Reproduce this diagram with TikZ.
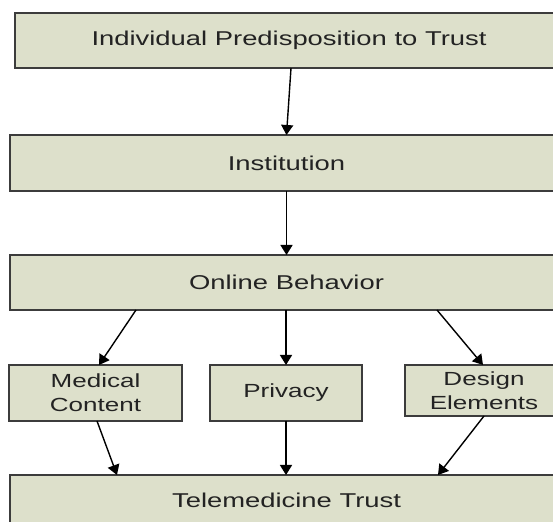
\documentclass[tikz,border=0pt]{standalone}
\usepackage{fontspec}
\setmainfont[FakeStretch=1.37]{Liberation Sans}
\usepackage{xcolor}
\usetikzlibrary{arrows.meta}

\begin{document}
\begin{tikzpicture}[x=1pt,y=1pt,
  box/.style={draw=drawColor,fill=fillColor,line width=1.6pt,text=textColor,
    inner sep=0pt,outer sep=0pt,align=center,font=\fontsize{20}{24}\selectfont},
  smallbox/.style={box,font=\fontsize{19}{24.3}\selectfont},
  link/.style={draw=black,line width=1.4pt,-{Triangle[length=10pt,width=12pt]}}]
\definecolor{fillColor}{RGB}{221,224,203}
\definecolor{drawColor}{RGB}{60,60,60}
\definecolor{textColor}{RGB}{35,35,35}
\path[use as bounding box,fill=white] (0,0) rectangle (553,521);

\node[box,minimum width=548,minimum height=55] (pred) at (289,480.5) {Individual Predisposition to Trust};
\node[box,minimum width=553,minimum height=56] (inst) at (286.5,358) {Institution};
\node[box,minimum width=553,minimum height=55] (onl) at (286.5,238.5) {Online Behavior};
\node[smallbox,minimum width=173,minimum height=56] (med) at (95.5,128) {Medical\\Content};
\node[smallbox,minimum width=152,minimum height=56] (priv) at (286,128) {Privacy};
\node[smallbox,minimum width=158,minimum height=51] (des) at (484,130.5) {Design\\Elements};
\node[box,minimum width=553,minimum height=50] (tele) at (286.5,21) {Telemedicine Trust};

\draw[link] ([xshift=2pt]pred.south) -- (inst.north);
\draw[link] (inst.south) -- (onl.north);
\draw[link] ([xshift=-150.5pt]onl.south) -- ([xshift=3.5pt]med.north);
\draw[link] ([xshift=-0.5pt]onl.south) -- (priv.north);
\draw[link] ([xshift=150.5pt]onl.south) -- ([xshift=-1pt]des.north);
\draw[link] ([xshift=1.5pt]med.south) -- ([xshift=-169.5pt]tele.north);
\draw[link] (priv.south) -- ([xshift=-0.5pt]tele.north);
\draw[link] (des.south) -- ([xshift=151.5pt]tele.north);
\end{tikzpicture}
\end{document}
